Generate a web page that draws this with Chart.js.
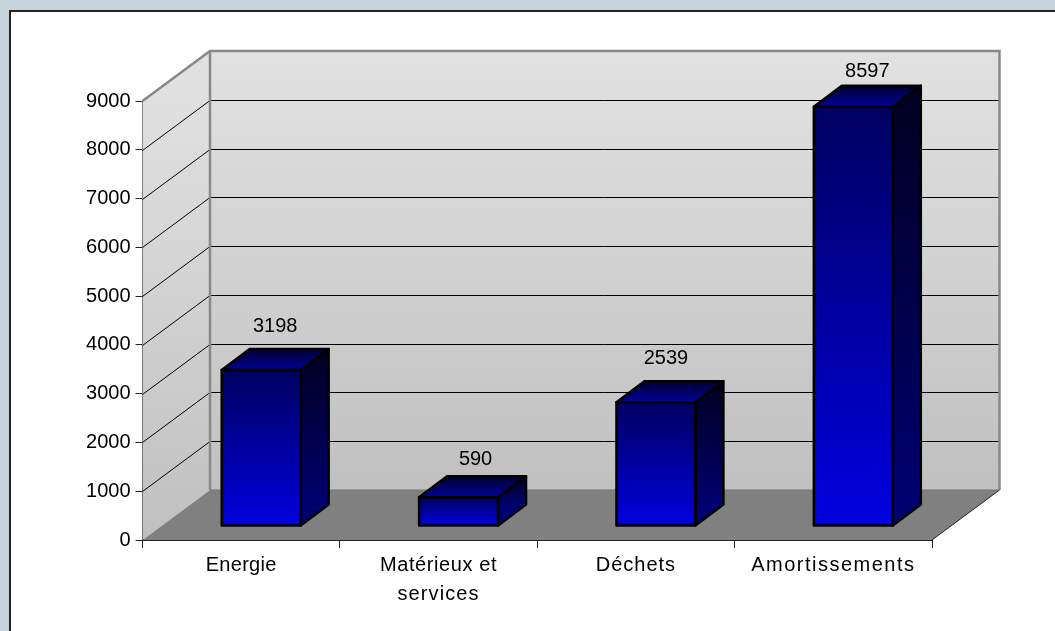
<!DOCTYPE html>
<html>
<head>
<meta charset="utf-8">
<script src="https://cdn.jsdelivr.net/npm/chart.js@4"></script>
<style>
   html, body { margin: 0; padding: 0; background: #c8d4dc; overflow: hidden; }
   #panel { position: absolute; left: 9px; top: 10px; width: 1100px; height: 700px; background: #fff; border-left: 2px solid #222; border-top: 2px solid #222; }
   #wrap { position: absolute; left: 0; top: 0; width: 1055px; height: 631px; }
</style>
</head>
<body>
<div id="panel"></div>
<div id="wrap"><canvas id="c" width="1055" height="631"></canvas></div>
<script>
const categories = ['Energie', ['Matérieux et', 'services'], 'Déchets', 'Amortissements'];
const values = [3198, 590, 2539, 8597];
const yMax = 9000;
const yStep = 1000;

// depth of the fake 3d box, and of one bar inside it
const wallDx = 67.5, wallDy = 50;
const barDx = 28, barDy = 21;
const shiftDx = 20, shiftDy = 14;
// labels were moved by hand in the original, offset from the front top middle of each bar
const labelNudge = [[14, -44], [17, -38], [10, -44], [14, -35]];
// the original spaces its category labels unevenly
const labelSpacing = { 'Energie': '0.3px', 'Matérieux et': '0.6px', 'services': '1.1px', 'Déchets': '1px', 'Amortissements': '1.5px' };

function poly(ctx, pts) {
   ctx.beginPath();
   pts.forEach((p, i) => i ? ctx.lineTo(p[0], p[1]) : ctx.moveTo(p[0], p[1]));
   ctx.closePath();
}

function vGrad(ctx, y0, y1, c0, c1) {
   const g = ctx.createLinearGradient(0, y0, 0, y1);
   g.addColorStop(0, c0);
   g.addColorStop(1, c1);
   return g;
}

const box3d = {
   id: 'box3d',
   afterLayout(chart) {
      const x = chart.scales.x;
      if (x._wrapped) return;
      x._wrapped = true;
      const draw = x.drawLabels;
      x.drawLabels = function (area) {
         const ctx = this.ctx;
         const fill = ctx.fillText;
         ctx.save();
         ctx.fillText = function (s, px, py) {
            ctx.letterSpacing = labelSpacing[s] || '0px';
            fill.call(ctx, s, px, py);
         };
         draw.call(this, area);
         delete ctx.fillText;
         ctx.restore();
      };
   },
   beforeDatasetsDraw(chart) {
      const { ctx, chartArea: a, scales: { y } } = chart;
      const L = a.left, R = a.right, T = a.top, B = a.bottom;
      const bL = L + wallDx, bR = R + wallDx, bT = T - wallDy, bB = B - wallDy;
      ctx.save();
      ctx.fillStyle = vGrad(ctx, bT, bB, '#e2e2e2', '#c0c0c0');
      ctx.fillRect(bL, bT, bR - bL, bB - bT);
      ctx.fillStyle = vGrad(ctx, T, B, '#e0e0e0', '#c0c0c0');
      poly(ctx, [[L, B], [bL, bB], [bL, bT], [L, T]]);
      ctx.fill();
      ctx.fillStyle = '#808080';
      poly(ctx, [[L, B], [bL, bB], [bR, bB], [R, B]]);
      ctx.fill();

      ctx.strokeStyle = '#000';
      ctx.lineWidth = 1;
      for (let v = yStep; v < yMax; v += yStep) {
         const p = Math.round(y.getPixelForValue(v)) + 0.5;
         ctx.beginPath();
         ctx.moveTo(L, p);
         ctx.lineTo(bL, p - wallDy);
         ctx.lineTo(bR, p - wallDy);
         ctx.stroke();
      }
      ctx.strokeStyle = '#888';
      ctx.lineWidth = 2.5;
      ctx.beginPath();
      ctx.moveTo(L, T);
      ctx.lineTo(bL, bT);
      ctx.lineTo(bR, bT);
      ctx.lineTo(bR, bB);
      ctx.stroke();
      ctx.beginPath();
      ctx.moveTo(bL, bT);
      ctx.lineTo(bL, bB);
      ctx.stroke();
      ctx.strokeStyle = '#777';
      ctx.lineWidth = 1;
      ctx.beginPath();
      ctx.moveTo(bL, bB);
      ctx.lineTo(bR, bB);
      ctx.stroke();
      ctx.strokeStyle = '#222';
      ctx.beginPath();
      ctx.moveTo(R, B);
      ctx.lineTo(bR, bB);
      ctx.stroke();
      ctx.restore();
   },
   beforeDatasetDraw(chart) {
      chart.ctx.save();
      chart.ctx.translate(shiftDx, -shiftDy);
   },
   afterDatasetDraw(chart, args) {
      const ctx = chart.ctx;
      ctx.lineJoin = 'round';
      args.meta.data.forEach((bar) => {
         const l = bar.x - bar.width / 2, r = bar.x + bar.width / 2, t = bar.y, b = bar.base;
         ctx.lineWidth = 2.5;
         ctx.strokeStyle = '#000';
         ctx.fillStyle = vGrad(ctx, t - barDy, b - barDy, '#000020', '#000070');
         poly(ctx, [[r, t], [r + barDx, t - barDy], [r + barDx, b - barDy], [r, b]]);
         ctx.fill();
         ctx.stroke();
         ctx.fillStyle = vGrad(ctx, t - barDy, t, '#000030', '#000099');
         poly(ctx, [[l, t], [l + barDx, t - barDy], [r + barDx, t - barDy], [r, t]]);
         ctx.fill();
         ctx.stroke();
         // outline of the front face, the bar itself has no border
         poly(ctx, [[l, t], [r, t], [r, b], [l, b]]);
         ctx.stroke();
      });
      ctx.restore();
   },
   afterDatasetsDraw(chart) {
      const ctx = chart.ctx;
      ctx.save();
      ctx.font = '20px "Liberation Sans", Arial, sans-serif';
      ctx.fillStyle = '#000';
      ctx.textAlign = 'center';
      ctx.textBaseline = 'middle';
      chart.getDatasetMeta(0).data.forEach((bar, i) => {
         ctx.fillText(String(values[i]), bar.x + shiftDx + labelNudge[i][0], bar.y - shiftDy + labelNudge[i][1]);
      });
      ctx.restore();
   }
};

new Chart(document.getElementById('c'), {
   type: 'bar',
   data: {
      labels: categories,
      datasets: [{
         data: values,
         barPercentage: 0.4,
         categoryPercentage: 1,
         borderWidth: 0,
         clip: false,
         backgroundColor(c) {
            const y = c.chart.scales.y;
            if (!y || c.raw === undefined) return '#0000aa';
            const t = y.getPixelForValue(c.raw), b = y.getPixelForValue(0);
            if (!isFinite(t) || !isFinite(b)) return '#0000aa';
            return vGrad(c.chart.ctx, t, b, '#000060', '#0000e0');
         }
      }]
   },
   options: {
      responsive: false,
      animation: false,
      layout: { padding: { top: 101, right: 123, left: 0, bottom: 0 } },
      plugins: { legend: { display: false }, tooltip: { enabled: false } },
      scales: {
         x: {
            afterFit(s) { s.height = 91; },
            grid: { drawOnChartArea: false, tickLength: 8, color: '#222', lineWidth: 1 },
            border: { color: '#222', width: 2 },
            ticks: {
               color: '#000', padding: 3, maxRotation: 0, autoSkip: false,
               font: { family: '"Liberation Sans", Arial, sans-serif', size: 20, lineHeight: 1.45 }
            }
         },
         y: {
            min: 0,
            max: yMax,
            afterFit(s) { s.width = 142.5; },
            grid: { drawOnChartArea: false, tickLength: 7, color: '#222', lineWidth: 1 },
            border: { color: '#222', width: 2 },
            ticks: {
               stepSize: yStep, color: '#000', padding: 5,
               callback: (v) => String(v),
               font: { family: '"Liberation Sans", Arial, sans-serif', size: 20 }
            }
         }
      }
   },
   plugins: [box3d]
});
</script>
</body>
</html>
